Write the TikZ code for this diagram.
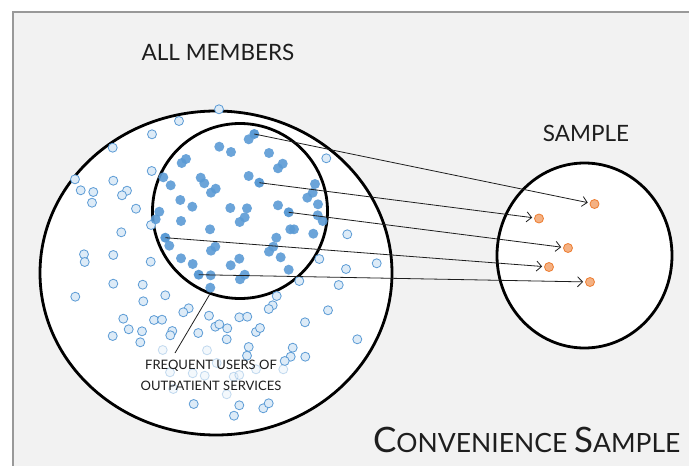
\documentclass[tikz,border=0pt]{standalone}
\usepackage{fontspec}
\setmainfont{Lato}
\usetikzlibrary{shapes.geometric,arrows.meta}

\definecolor{dotblue}{HTML}{5B9BD5}
\definecolor{dotpale}{HTML}{DDEBF7}
\definecolor{dotorange}{HTML}{ED7D31}
\definecolor{dotpeach}{HTML}{F4B183}
\definecolor{framegray}{HTML}{F2F2F2}
\definecolor{inkgray}{HTML}{1E1E1E}

\tikzset{
  setring/.style={draw=black,fill=white,line width=2.8pt,inner sep=0pt},
  member/.style={draw=dotblue,fill=dotpale,line width=0.8pt},
  faintmember/.style={member,opacity=0.35},
  frequser/.style={fill=dotblue,fill opacity=0.9},
  picked/.style={shape=circle,draw=dotorange,fill=dotpeach,line width=0.8pt,minimum size=9pt,inner sep=0pt},
  srcdot/.style={shape=circle,fill=dotblue,minimum size=10pt,inner sep=0pt},
  pickline/.style={draw=inkgray,line width=0.8pt,-{Straight Barb[length=5pt,width=10pt]},shorten >=2pt},
  heading/.style={text=inkgray,font=\fontsize{22.5}{26}\selectfont},
}

\begin{document}
\begin{tikzpicture}[x=1pt,y=-1pt]
\useasboundingbox (0,0) rectangle (689,466);
\begin{scope}
\clip (0,0) rectangle (689,466);
\fill[white] (0,0) rectangle (689,466);
\draw[fill=framegray,draw=gray!80,line width=1.2pt] (13,12) rectangle (700,480);
\end{scope}

\node[heading] (allttl) at (218,52) {ALL MEMBERS};
\node[heading] (sampttl) at (586,133) {SAMPLE};
\node[text=inkgray,anchor=east] (conv) at (684,440) {\fontsize{35}{36}\selectfont C\fontsize{26.5}{36}\selectfont ONVENIENCE \fontsize{35}{36}\selectfont S\fontsize{26.5}{36}\selectfont AMPLE};

\node[setring,shape=ellipse,minimum width=352pt,minimum height=324pt] (all) at (216,273) {};
\node[setring,shape=circle,minimum size=175pt] (inner) at (240,211) {};
\node[setring,shape=ellipse,minimum width=175pt,minimum height=185pt] (samp) at (584.5,255.5) {};

% members outside the frequent users
\foreach \x/\y in {219/109.3,179/121,152/134.3,112.7/147.7,326.3/158.3,151.7/171,75/179.3,113.3/180.7,
  80.7/190.3,93.3/192,127/190.7,122/195.3,92/202.7,136/208.7,151/225,121.3/232.3,347.3/234.3,
  84/254.3,84.7/262,113.3/255,150.7/261.7,319.3/259,346/269,376.7/263.3,113.3/283.7,142.7/284.7,
  75.3/296.7,143.3/301.3,165.3/295.3,299.3/281,338.7/285,276.7/296,272.7/305.3,268.7/309,328/310.3,
  188.7/308.3,183.3/312.3,123.3/318.7,154/320,162/319.7,209/315.7,239.3/317.3,247.3/316.7,305/322.3,
  112.7/336,128.7/329.3,142/331.3,140.3/342.3,172.3/331,170.3/335.3,198.3/333,215.3/326.7,219.3/324.3,
  227.3/328.3,226.7/339.3,256/332,260/328,357.3/339.3,248.7/347,247/355.7,292.7/347.7,290.7/356.7,
  284.7/361,305.3/356.7,193.7/404,239.3/405.3,234/415.7,263.3/408.3,268.7/403.3}
  \draw[member] (\x,\y) circle[radius=4.5pt];
\foreach \x/\y in {162.7/350,207/350.3,170/372.3,192.7/373.3,204.7/375.7,233.7/376.7,239.3/375,
  226.7/394.3,173.3/389,216.7/363,283.3/369.3,256/369.3}
  \draw[faintmember] (\x,\y) circle[radius=4.5pt];

% frequent users
\foreach \x/\y in {248.7/139.3,219.3/146.7,231/152,269/153,186/159,181.7/163,282.7/163.7,278/168.3,
  163.3/177.3,200.7/177.7,248.7/176,170.7/185.3,204.3/183.3,215.7/188.7,211/192.7,315/184,
  312.7/192.7,307.3/197.7,180.3/200,192.3/206.7,230.3/208,247/208.3,278/205.3,318/204.3,244.7/217.3,
  239.7/222,317.7/215.3,322.7/221,159.3/211.7,155.7/219.3,181/221,210/229.3,290.3/229.3,294/229.3,
  313.3/233.7,169.3/245.7,276.3/237.7,273.3/246.7,269/251.7,215.3/246.7,211/250.7,181/258.3,
  192.7/264,230.7/265.3,239.3/258.7,280.7/257.3,288.7/269.7,210.7/275.3,244.7/274.7,240/279.3,
  210.3/287.7}
  \fill[frequser] (\x,\y) circle[radius=5pt];

\node[srcdot] (s1) at (254.3,134) {};
\node[srcdot] (s2) at (259.3,182.7) {};
\node[srcdot] (s3) at (288.7,212.3) {};
\node[srcdot] (s4) at (165.3,237.7) {};
\node[srcdot] (s5) at (198.7,274.7) {};

\node[picked] (t1) at (594.5,204) {};
\node[picked] (t2) at (539,218.5) {};
\node[picked] (t3) at (568,248) {};
\node[picked] (t4) at (549,267) {};
\node[picked] (t5) at (590,282) {};

\draw[pickline] (s1.center) -- (t1);
\draw[pickline] (s2.center) -- (t2);
\draw[pickline] (s3.center) -- (t3);
\draw[pickline] (s4.center) -- (t4);
\draw[pickline] (s5.center) -- (t5);

\node[text=inkgray,align=center,font=\fontsize{13}{20.5}\selectfont] (freq) at (211,375.5) {FREQUENT USERS OF\\OUTPATIENT SERVICES};
\coordinate (lblend) at (175,353);
\draw[inkgray,line width=0.8pt] (lblend) -- (inner.-110);
\end{tikzpicture}
\end{document}
